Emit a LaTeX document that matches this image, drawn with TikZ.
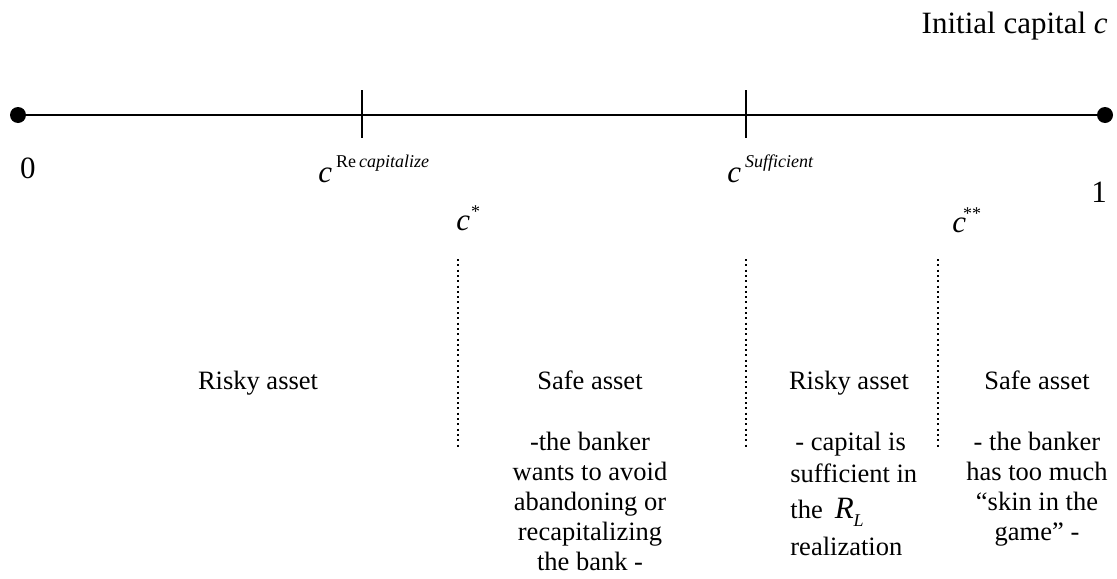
\documentclass[tikz,border=0pt]{standalone}
\usepackage{fontspec}
\setmainfont{Liberation Serif}
\begin{document}
\begin{tikzpicture}[x=0.5pt,y=-0.5pt,
  txt/.style={inner sep=0pt, font=\fontsize{13.25}{15}\selectfont},
  big/.style={inner sep=0pt, font=\fontsize{15.5}{18}\selectfont},
  axisline/.style={line width=1pt},
  tickline/.style={line width=0.75pt},
  sepline/.style={line width=1.1pt, dash pattern=on 1pt off 1.65pt},
  enddot/.style={circle, fill=black, inner sep=0pt, minimum size=8pt}]
\useasboundingbox (0,0) rectangle (1117,578);

% axis
\node[enddot] (d0) at (18,115) {};
\node[enddot] (d1) at (1105,115) {};
\draw[axisline] (d0.center) -- (d1.center);
\coordinate (t1a) at (362,90);  \coordinate (t1b) at (362,138);
\coordinate (t2a) at (746,90);  \coordinate (t2b) at (746,138);
\draw[tickline] (t1a) -- (t1b);
\draw[tickline] (t2a) -- (t2b);

% axis labels
\node[big, anchor=base east] (title) at (1108,33) {Initial capital \textit{c}};
\node[big, anchor=base] (zero) at (28,178) {0};
\node[big, anchor=base] (one) at (1099,202) {1};
\node[big, anchor=base west] (crec) at (318,182)
  {\textit{c}\hspace{2pt}\raisebox{7.5pt}{\fontsize{9}{9}\selectfont Re\hspace{1.5pt}\textit{capitalize}}};
\node[big, anchor=base west] (csuf) at (727,182)
  {\textit{c}\hspace{2pt}\raisebox{7.5pt}{\fontsize{9}{9}\selectfont\textit{Sufficient}}};
\node[big, anchor=base west] (cstar) at (456,230)
  {\textit{c}\hspace{0.5pt}\raisebox{6.5pt}{\fontsize{9}{9}\selectfont *}};
\node[big, anchor=base west] (cstarstar) at (952,232)
  {\textit{c}\hspace{-1.5pt}\raisebox{6.5pt}{\fontsize{9}{9}\selectfont **}};

% separators
\coordinate (s1a) at (458,259); \coordinate (s1b) at (458,447);
\coordinate (s2a) at (746,259); \coordinate (s2b) at (746,447);
\coordinate (s3a) at (938,259); \coordinate (s3b) at (938,447);
\draw[sepline] (s1a) -- (s1b);
\draw[sepline] (s2a) -- (s2b);
\draw[sepline] (s3a) -- (s3b);

% column 1
\node[txt, anchor=base] (h1) at (258,389) {Risky asset};

% column 2
\node[txt, anchor=base] (h2) at (590,389) {Safe asset};
\node[txt, anchor=base] (a1) at (590,450) {-the banker};
\node[txt, anchor=base] (a2) at (590,480) {wants to avoid};
\node[txt, anchor=base] (a3) at (590,510) {abandoning or};
\node[txt, anchor=base] (a4) at (590,540) {recapitalizing};
\node[txt, anchor=base] (a5) at (590,570) {the bank -};

% column 3
\node[txt, anchor=base] (h3) at (849,389) {Risky asset};
\node[txt, anchor=base west] (b1) at (795,450) {- capital is};
\node[txt, anchor=base west] (b2) at (790,482) {sufficient in};
\node[txt, anchor=base west] (b3) at (790,518)
  {the\hspace{6pt}{\fontsize{15.5}{18}\selectfont\textit{R}}\raisebox{-4pt}{\fontsize{9}{9}\selectfont\textit{L}}};
\node[txt, anchor=base west] (b4) at (790,555) {realization};

% column 4
\node[txt, anchor=base] (h4) at (1037,389) {Safe asset};
\node[txt, anchor=base] (e1) at (1037,450) {- the banker};
\node[txt, anchor=base] (e2) at (1037,480) {has too much};
\node[txt, anchor=base] (e3) at (1037,510) {``skin in the};
\node[txt, anchor=base] (e4) at (1037,540) {game'' -};
\end{tikzpicture}
\end{document}
